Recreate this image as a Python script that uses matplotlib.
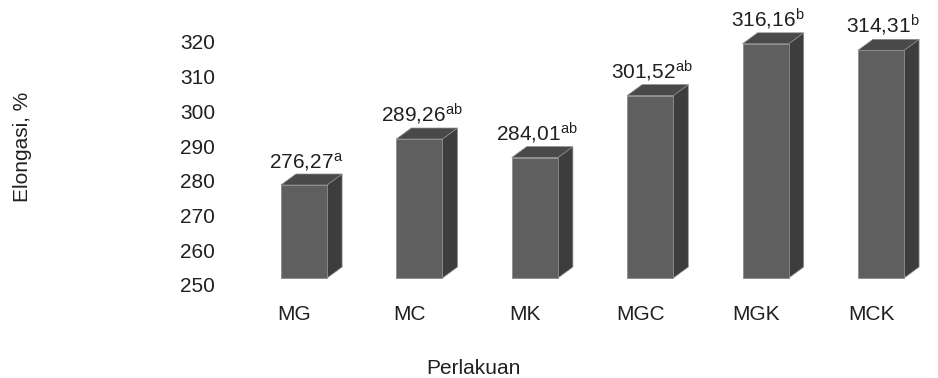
import matplotlib
matplotlib.use("Agg")
import matplotlib.pyplot as plt
from matplotlib.patches import Polygon
from matplotlib.transforms import ScaledTranslation

plt.rcParams['font.family'] = ['Liberation Sans', 'DejaVu Sans']
plt.rcParams['mathtext.fontset'] = 'custom'
plt.rcParams['mathtext.rm'] = 'Liberation Sans'
plt.rcParams['mathtext.it'] = 'Liberation Sans'

# Data
categories = ["MG", "MC", "MK", "MGC", "MGK", "MCK"]
elongation = [276.27, 289.26, 284.01, 301.52, 316.16, 314.31]
letters = ["a", "ab", "ab", "ab", "b", "b"]
y_ticks = [250, 260, 270, 280, 290, 300, 310, 320]

DPI = 100
W, H = 938, 378
fig = plt.figure(figsize=(W / DPI, H / DPI), dpi=DPI)
text_c = "#231f20"
fs = 15

# main plotting area (bars)
px_per_unit = 3.54
floor_px = 278          # pixel row (from top) of the 250 level at bar fronts
ymin, ymax = 245, 325
bar_step = 115.4
first_center = 304
ax_left = first_center - 0.5 * bar_step
ax_bottom_px = floor_px + (250 - ymin) * px_per_unit
ax = fig.add_axes([ax_left / W, (H - ax_bottom_px) / H,
                   6 * bar_step / W, (ymax - ymin) * px_per_unit / H])
ax.set_xlim(-0.5, 5.5)
ax.set_ylim(ymin, ymax)
for s in ax.spines.values():
    s.set_visible(False)
ax.tick_params(left=False, labelleft=False, bottom=False)

front_c = "#5e5f5e"
side_c = "#3c3d3c"
top_c = "#484948"
edge_c = "#8c8c8c"
bw = 0.40
depth_dx = 15 / bar_step          # depth offset in data units
depth_dy = 11 / px_per_unit
base = 250

x = list(range(len(categories)))
ax.bar(x, [v - base for v in elongation], bottom=base, width=bw,
       color=front_c, edgecolor=edge_c, linewidth=0.6, zorder=3)
for i, v in zip(x, elongation):
    l, r = i - bw / 2, i + bw / 2
    side = Polygon([(r, base), (r + depth_dx, base + depth_dy),
                    (r + depth_dx, v + depth_dy), (r, v)],
                   closed=True, facecolor=side_c, edgecolor=edge_c,
                   linewidth=0.5, zorder=2)
    top = Polygon([(l, v), (r, v), (r + depth_dx, v + depth_dy),
                   (l + depth_dx, v + depth_dy)],
                  closed=True, facecolor=top_c, edgecolor=edge_c,
                  linewidth=0.5, zorder=2)
    ax.add_patch(side)
    ax.add_patch(top)

for i, v, lt in zip(x, elongation, letters):
    txt = f"{v:.2f}".replace(".", ",") + r"$^{\mathrm{" + lt + "}}$"
    ax.annotate(txt, xy=(i, v), xytext=(2 * 72 / DPI, 12 * 72 / DPI),
                textcoords="offset points", ha="center", va="bottom",
                fontsize=fs, color=text_c, annotation_clip=False)

# category labels
ax.set_xticks(x)
ax.set_xticklabels(categories, fontsize=fs, color=text_c)
ax.tick_params(axis="x", pad=3)
for lab in ax.get_xticklabels():
    lab.set_transform(lab.get_transform() +
                      ScaledTranslation(-10 / DPI, 0, fig.dpi_scale_trans))

# value-axis labels on their own scale
t0_px, t1_px = 285, 42
ax2_left = 245
ax2 = fig.add_axes([ax2_left / W, (H - t0_px) / H, 0.01, (t0_px - t1_px) / H])
ax2.set_ylim(250, 320)
ax2.patch.set_visible(False)
for s in ax2.spines.values():
    s.set_visible(False)
ax2.set_xticks([])
ax2.set_yticks(y_ticks)
ax2.set_yticklabels([str(t) for t in y_ticks], fontsize=fs, color=text_c)
ax2.tick_params(axis="y", length=0, pad=(ax2_left - 215) * 72 / DPI)

fig.text(22 / W, 1 - 147 / H, "Elongasi, %", rotation=90, fontsize=fs,
         ha="center", va="center", color=text_c)
fig.text(473 / W, 1 - 368 / H, "Perlakuan", fontsize=fs,
         ha="center", va="center", color=text_c)

fig.savefig("out.png", dpi=DPI)
